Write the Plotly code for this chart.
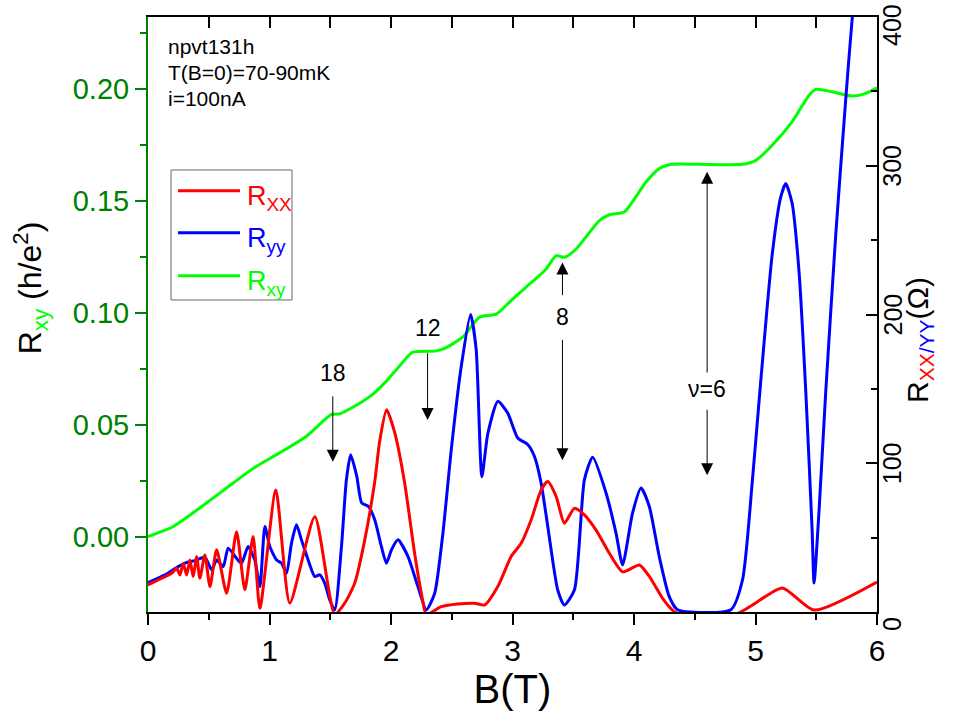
import plotly.graph_objects as go

# Hall resistance R_xy (units of h/e^2) versus field B (T)
B_xy = [0.0, 0.208, 0.482, 0.701, 0.893, 1.085, 1.304, 1.510, 1.578, 1.685, 1.849, 1.962,
        2.071, 2.178, 2.373, 2.455, 2.589, 2.729, 2.866, 3.000, 3.113, 3.277, 3.359, 3.428,
        3.524, 3.715, 3.797, 3.920, 3.986, 4.099, 4.208, 4.315, 4.537, 4.890, 5.003, 5.137,
        5.302, 5.441, 5.496, 5.630, 5.794, 5.907, 6.0]
R_xy = [0.0, 0.0045, 0.0150, 0.0239, 0.0314, 0.0374, 0.0448, 0.0545, 0.0548, 0.0577, 0.0635, 0.0694,
        0.0762, 0.0823, 0.0829, 0.0844, 0.0890, 0.0980, 0.0993, 0.1060, 0.1114, 0.1195, 0.1254, 0.1247,
        0.1284, 0.1411, 0.1437, 0.1449, 0.1494, 0.1583, 0.1643, 0.1662, 0.1662, 0.1662, 0.1680, 0.1747,
        0.1853, 0.1971, 0.1997, 0.1986, 0.1967, 0.1979, 0.2004]

# Longitudinal resistance R_xx (Ohm)
B_xx = [0.0, 0.113, 0.195, 0.236, 0.263, 0.290, 0.318, 0.345, 0.372, 0.400, 0.427, 0.468,
        0.510, 0.565, 0.647, 0.729, 0.797, 0.865, 0.921, 1.052, 1.167, 1.373, 1.537, 1.619,
        1.701, 1.784, 1.866, 1.907, 1.964, 2.030, 2.112, 2.194, 2.250, 2.291, 2.414, 2.550,
        2.688, 2.770, 2.879, 2.989, 3.071, 3.154, 3.236, 3.290, 3.359, 3.427, 3.510, 3.592,
        3.688, 3.797, 3.906, 4.044, 4.126, 4.235, 4.317, 4.372, 4.838, 4.975, 5.221, 5.482, 6.0]
R_xx = [18.2, 22.7, 26.0, 29.4, 24.9, 32.8, 24.9, 35.0, 23.8, 37.2, 22.7, 38.4,
        17.1, 41.8, 12.6, 54.0, 15.0, 50.7, 2.5, 82.0, 6.0, 64.0, -1.5, 5.9,
        19.3, 48.5, 87.5, 115.0, 136.0, 120.7, 86.9, 39.7, 12.6, -1.5, 3.6, 5.4,
        5.9, 4.7, 17.1, 37.3, 46.2, 62.0, 82.1, 87.7, 77.7, 59.7, 69.8, 65.3,
        55.0, 39.5, 27.0, 31.6, 23.9, 9.2, 1.3, -1.5, -1.5, 4.7, 16.2, 1.3, 20.2]

# Transverse-direction resistance R_yy (Ohm)
B_yy = [0.0, 0.140, 0.249, 0.310, 0.386, 0.468, 0.524, 0.565, 0.619, 0.660, 0.729, 0.770,
        0.824, 0.879, 0.921, 0.962, 1.003, 1.058, 1.099, 1.140, 1.181, 1.222, 1.263, 1.318,
        1.373, 1.414, 1.455, 1.496, 1.537, 1.592, 1.633, 1.668, 1.718, 1.759, 1.814, 1.866,
        1.921, 1.962, 2.005, 2.057, 2.140, 2.222, 2.291, 2.359, 2.427, 2.496, 2.578, 2.655,
        2.701, 2.748, 2.797, 2.879, 2.961, 3.043, 3.125, 3.180, 3.235, 3.290, 3.372, 3.427,
        3.510, 3.592, 3.660, 3.770, 3.852, 3.906, 3.988, 4.058, 4.126, 4.208, 4.290, 4.359,
        4.797, 4.893, 4.975, 5.044, 5.137, 5.208, 5.249, 5.301, 5.359, 5.414, 5.466, 5.482,
        5.523, 5.578, 5.660, 5.743, 5.797, 5.850]
R_yy = [19.8, 25.0, 30.5, 33.0, 34.5, 36.8, 28.3, 35.0, 30.5, 42.9, 36.1, 32.8,
        44.0, 35.0, 17.1, 57.4, 43.8, 35.0, 32.8, 26.0, 46.3, 58.6, 48.5, 35.0,
        23.8, 25.0, 19.3, 8.1, 1.5, 43.8, 88.9, 105.7, 91.3, 73.3, 71.0, 62.0,
        44.0, 32.8, 42.0, 48.5, 37.3, 17.0, 1.5, 12.4, 52.8, 109.0, 165.0, 200.0,
        176.5, 91.0, 120.0, 141.6, 133.7, 117.0, 112.6, 104.7, 86.9, 57.7, 14.9, 4.7,
        14.9, 89.0, 104.0, 80.0, 53.0, 31.6, 66.5, 83.3, 70.9, 37.2, 10.3, 1.5,
        1.5, 21.5, 89.0, 156.0, 240.0, 279.0, 288.0, 275.0, 228.0, 148.0, 55.0, 19.5,
        68.0, 148.0, 253.0, 345.0, 400.0, 440.0]

# Axis ticks
B_ticks = [0, 1, 2, 3, 4, 5, 6]
Rxy_ticks = [0.0, 0.05, 0.10, 0.15, 0.20]
Rxy_minor = [0.025, 0.075, 0.125, 0.175, 0.225]
Rohm_ticks = [0, 100, 200, 300, 400]
Rohm_tick_text = ["0", "100", "200", "300", "400"]

# Filling-factor markers: label, field, label height and arrow spans (Ohm scale)
nu_labels = ["18", "12", "8", "\u03bd=6"]
nu_B = [1.521, 2.301, 3.411, 4.602]
nu_label_R = [161, 191, 198, 150]
arrows_down = [(146, 101), (175, 129), (184, 102), (137, 92)]
arrows_up = [None, None, (212, 235), (160, 296)]

info_lines = ["npvt131h", "T(B=0)=70-90mK", "i=100nA"]

FONT = "Liberation Sans, Arial, sans-serif"
NARROW = "Liberation Sans Narrow, Arial Narrow, Liberation Sans, sans-serif"
GREEN_AX = "#008000"

fig = go.Figure()
fig.add_trace(go.Scatter(x=B_xy, y=R_xy, mode="lines", yaxis="y", xaxis="x",
                         line=dict(color="#00FF00", width=3, shape="spline", smoothing=0.6),
                         showlegend=False))
fig.add_trace(go.Scatter(x=B_yy, y=R_yy, mode="lines", yaxis="y2", xaxis="x",
                         line=dict(color="#0000FF", width=3, shape="spline", smoothing=0.6),
                         showlegend=False))
fig.add_trace(go.Scatter(x=B_xx, y=R_xx, mode="lines", yaxis="y2", xaxis="x",
                         line=dict(color="#FF0000", width=3, shape="spline", smoothing=0.6),
                         showlegend=False))
# top frame axis
fig.add_trace(go.Scatter(x=[0, 6], y=[None, None], xaxis="x2", yaxis="y", showlegend=False,
                         hoverinfo="skip"))

annotations = []
shapes = []

# info block
for i, t in enumerate(info_lines):
    annotations.append(dict(xref="paper", yref="paper", x=0.0247, y=0.9496 - i * 0.0429,
                            text=t, showarrow=False, xanchor="left", yanchor="middle",
                            font=dict(family=FONT, size=21, color="black")))

# legend box
shapes.append(dict(type="rect", xref="paper", yref="paper", x0=0.0316, x1=0.1975,
                   y0=0.5244, y1=0.7429, line=dict(color="#666666", width=1),
                   fillcolor="rgba(0,0,0,0)"))
legend_items = [("#FF0000", "R<sub>XX</sub>", 0.7081),
                ("#0000FF", "R<sub>yy</sub>", 0.6375),
                ("#00FF00", "R<sub>xy</sub>", 0.5652)]
for col, txt, yy in legend_items:
    shapes.append(dict(type="line", xref="paper", yref="paper", x0=0.0412, x1=0.1262,
                       y0=yy, y1=yy, line=dict(color=col, width=3)))
    annotations.append(dict(xref="paper", yref="paper", x=0.1330, y=yy - 0.012, text=txt,
                            showarrow=False, xanchor="left", yanchor="middle",
                            font=dict(family=FONT, size=27, color=col)))

# filling-factor arrows and labels
for lab, b, ly, dn, up in zip(nu_labels, nu_B, nu_label_R, arrows_down, arrows_up):
    annotations.append(dict(xref="x", yref="y2", x=b, y=ly, text=lab, showarrow=False,
                            font=dict(family=FONT, size=23, color="black")))
    for seg in (dn, up):
        if seg is None:
            continue
        annotations.append(dict(xref="x", yref="y2", axref="x", ayref="y2",
                                x=b, y=seg[1], ax=b, ay=seg[0], text="",
                                showarrow=True, arrowhead=2, arrowsize=2.4,
                                arrowwidth=1, arrowcolor="black", standoff=0,
                                startstandoff=0))

# right-axis tick labels, rotated to read upward; end labels nudged inside the page
label_shift = {0: -12, 400: -8}
for v, t in zip(Rohm_ticks, Rohm_tick_text):
    annotations.append(dict(xref="paper", yref="y2", x=1.0206, y=v, text=t, textangle=-90,
                            showarrow=False, xanchor="center", yanchor="middle",
                            yshift=label_shift.get(v, 0),
                            font=dict(family=NARROW, size=25, color="black")))

# axis titles
annotations.append(dict(xref="paper", yref="paper", x=-0.161, y=0.545, textangle=-90,
                        text="R<sub><span style='color:#00FF00'>xy</span></sub> (h/e<sup>2</sup>)",
                        showarrow=False, xanchor="center", yanchor="middle",
                        font=dict(family=FONT, size=32, color="black")))
annotations.append(dict(xref="paper", yref="paper", x=1.0575, y=0.457, textangle=-90,
                        text="R<sub><span style='color:#FF0000'>XX</span><span style='color:#0000FF'>/YY</span></sub>(\u03a9)",
                        showarrow=False, xanchor="center", yanchor="middle",
                        font=dict(family=FONT, size=30, color="black")))

fig.update_layout(
    width=964, height=723,
    margin=dict(l=148, r=87, t=17, b=111, autoexpand=False),
    plot_bgcolor="white", paper_bgcolor="white",
    showlegend=False,
    annotations=annotations, shapes=shapes,
    xaxis=dict(range=[0, 6], tickmode="array", tickvals=B_ticks, automargin=False,
               ticks="outside", ticklen=11, tickwidth=1.5, tickcolor="black",
               minor=dict(dtick=0.5, ticklen=6, tickwidth=1.5, ticks="outside", tickcolor="black"),
               showline=True, linecolor="black", linewidth=2, showgrid=False, zeroline=False,
               tickfont=dict(family=NARROW, size=30, color="black"),
               title=dict(text="B(T)", font=dict(family=NARROW, size=40, color="black"), standoff=6)),
    xaxis2=dict(range=[0, 6], overlaying="x", side="top", tickmode="linear", tick0=0, dtick=0.5,
                ticks="inside", ticklen=11, tickwidth=1.5, tickcolor="black", automargin=False,
                showticklabels=False, showline=True, linecolor="black", linewidth=1.5,
                showgrid=False, zeroline=False),
    yaxis=dict(range=[-0.0337, 0.232], tickmode="array", automargin=False,
               tickvals=Rxy_ticks, tickformat=".2f",
               ticks="outside", ticklen=11, tickwidth=1.5, tickcolor=GREEN_AX,
               minor=dict(tickmode="array", tickvals=Rxy_minor,
                          ticklen=6, tickwidth=1.5, ticks="outside", tickcolor=GREEN_AX),
               showline=True, linecolor=GREEN_AX, linewidth=2, showgrid=False, zeroline=False,
               tickfont=dict(family=FONT, size=29, color=GREEN_AX)),
    yaxis2=dict(range=[0, 400], overlaying="y", side="right", tickmode="array", tickvals=Rohm_ticks,
                automargin=False, showticklabels=False,
                ticks="inside", ticklen=11, tickwidth=1.5, tickcolor="black",
                minor=dict(dtick=50, ticklen=6, tickwidth=1.5, ticks="inside", tickcolor="black"),
                showline=True, linecolor="black", linewidth=2, showgrid=False, zeroline=False),
)

fig.write_html("out.html")
